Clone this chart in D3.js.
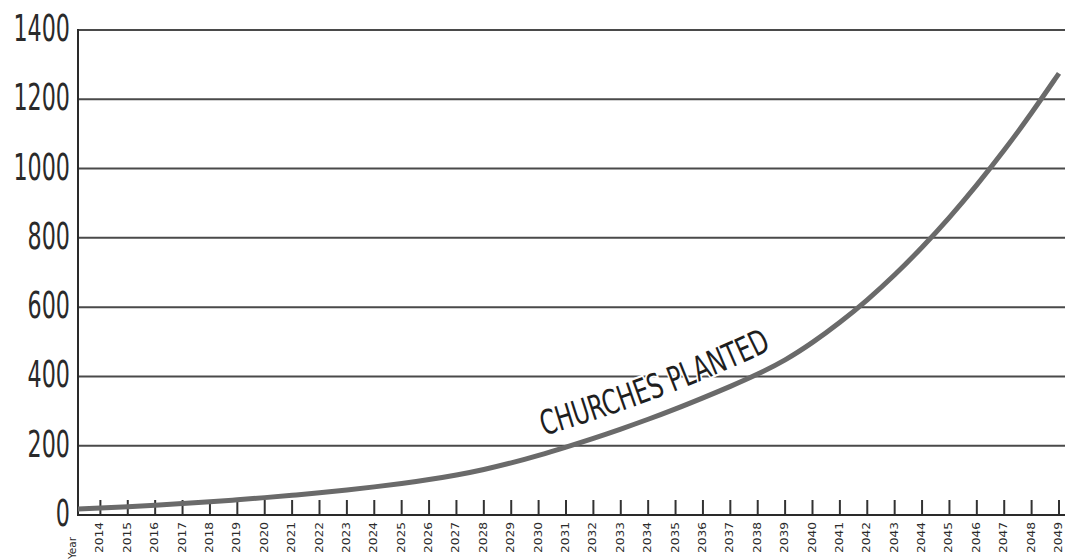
<!DOCTYPE html>
<html>
<head>
<meta charset="utf-8">
<script src="https://cdn.jsdelivr.net/npm/d3@7"></script>
<style>
body { margin: 0; background: #fff; }
</style>
</head>
<body>
<script>
// ------------------------------------------------ Data ------------------------------------------------ //
var years = [2013, 2014, 2015, 2016, 2017, 2018, 2019, 2020, 2021, 2022, 2023, 2024,
    2025, 2026, 2027, 2028, 2029, 2030, 2031, 2032, 2033, 2034, 2035, 2036, 2037,
    2038, 2039, 2040, 2041, 2042, 2043, 2044, 2045, 2046, 2047, 2048, 2049];
var churches = [17, 20, 24, 28, 33, 38, 44, 50, 57, 64, 72, 81,
    91, 102, 115, 131, 150, 172, 196, 221, 248, 276, 306, 338, 371,
    406, 446, 497, 555, 620, 692, 772, 858, 952, 1052, 1160, 1275];
var yTicks = [0, 200, 400, 600, 800, 1000, 1200, 1400];
var xTickYears = years.slice(1);
var firstLabel = "Year";
var seriesLabel = "CHURCHES PLANTED";

// --------------------------------------------- Init SVG ---------------------------------------------- //
var width = 1065, height = 560;
var plotLeft = 78, plotRight = 1065, plotTop = 30, plotBottom = 515;
var narrow = "'Liberation Sans Narrow', 'DejaVu Sans Condensed', sans-serif";

var svg = d3.select("body").append("svg")
    .attr("width", width)
    .attr("height", height);

var x = d3.scaleLinear().domain([2013, 2049]).range([73, 1059]);
var y = d3.scaleLinear().domain([0, 1400]).range([plotBottom, plotTop]);

svg.append("defs").append("clipPath").attr("id", "plot-clip")
    .append("rect")
    .attr("x", plotLeft).attr("y", 0)
    .attr("width", plotRight - plotLeft).attr("height", plotBottom);

// gridlines
svg.append("g").attr("class", "grid")
    .selectAll("line")
    .data(yTicks.slice(1))
    .enter().append("line")
        .attr("x1", plotLeft).attr("x2", plotRight)
        .attr("y1", d => y(d)).attr("y2", d => y(d))
        .attr("stroke", "#4a4a4a")
        .attr("stroke-width", 2);

// y labels
svg.append("g").attr("class", "ylabels")
    .selectAll("text")
    .data(yTicks)
    .enter().append("text")
        .attr("transform", d => "translate(70," + (y(d) + 11) + ") scale(0.65,1)")
        .attr("text-anchor", "end")
        .attr("font-family", narrow)
        .attr("font-size", 38)
        .attr("fill", "#2a2a2a")
        .text(d => d);

// x ticks (pointing up into plot)
svg.append("g").attr("class", "xticks")
    .selectAll("line")
    .data(xTickYears)
    .enter().append("line")
        .attr("x1", d => x(d)).attr("x2", d => x(d))
        .attr("y1", plotBottom - 15).attr("y2", plotBottom)
        .attr("stroke", "#333")
        .attr("stroke-width", 2);

// x labels
svg.append("g").attr("class", "xlabels")
    .selectAll("text")
    .data(xTickYears)
    .enter().append("text")
        .attr("transform", d => "translate(" + (x(d) + 3) + ",522) rotate(-90)")
        .attr("text-anchor", "end")
        .attr("font-family", narrow)
        .attr("font-size", 11)
        .attr("textLength", 31)
        .attr("lengthAdjust", "spacingAndGlyphs")
        .attr("fill", "#2a2a2a")
        .text(d => d);

svg.append("text")
    .attr("transform", "translate(" + (x(2013) + 3) + ",559) rotate(-90)")
    .attr("text-anchor", "start")
    .attr("font-family", narrow)
    .attr("font-size", 11)
    .attr("textLength", 22)
    .attr("lengthAdjust", "spacingAndGlyphs")
    .attr("fill", "#2a2a2a")
    .text(firstLabel);

// axes lines
svg.append("line")
    .attr("x1", plotLeft).attr("x2", plotLeft)
    .attr("y1", plotTop - 1).attr("y2", plotBottom + 1)
    .attr("stroke", "#2a2a2a").attr("stroke-width", 2);
svg.append("line")
    .attr("x1", plotLeft).attr("x2", plotRight)
    .attr("y1", plotBottom).attr("y2", plotBottom)
    .attr("stroke", "#2a2a2a").attr("stroke-width", 2);

// series line
var series = years.map((d, i) => ({year: d, value: churches[i]}));
var line = d3.line()
    .x(d => x(d.year))
    .y(d => y(d.value))
    .curve(d3.curveBasis);

svg.append("path")
    .datum(series)
    .attr("clip-path", "url(#plot-clip)")
    .attr("fill", "none")
    .attr("stroke", "#6a6a6a")
    .attr("stroke-width", 5)
    .attr("d", line);

// label following the curve
var labelPath = d3.line()
    .x(d => x(d.year))
    .y(d => y(d.value) - 18)
    .curve(d3.curveBasis);
svg.select("defs").append("path")
    .attr("id", "label-path")
    .attr("d", labelPath(series.filter(d => d.year >= 2029 && d.year <= 2040)));

svg.append("text")
    .attr("font-family", narrow)
    .attr("font-size", 34)
    .attr("fill", "#1e1e1e")
    .attr("stroke", "#fff")
    .attr("stroke-width", 4)
    .attr("paint-order", "stroke")
    .append("textPath")
        .attr("href", "#label-path")
        .attr("startOffset", 34)
        .attr("textLength", 244)
        .attr("lengthAdjust", "spacingAndGlyphs")
        .text(seriesLabel);
</script>
</body>
</html>
